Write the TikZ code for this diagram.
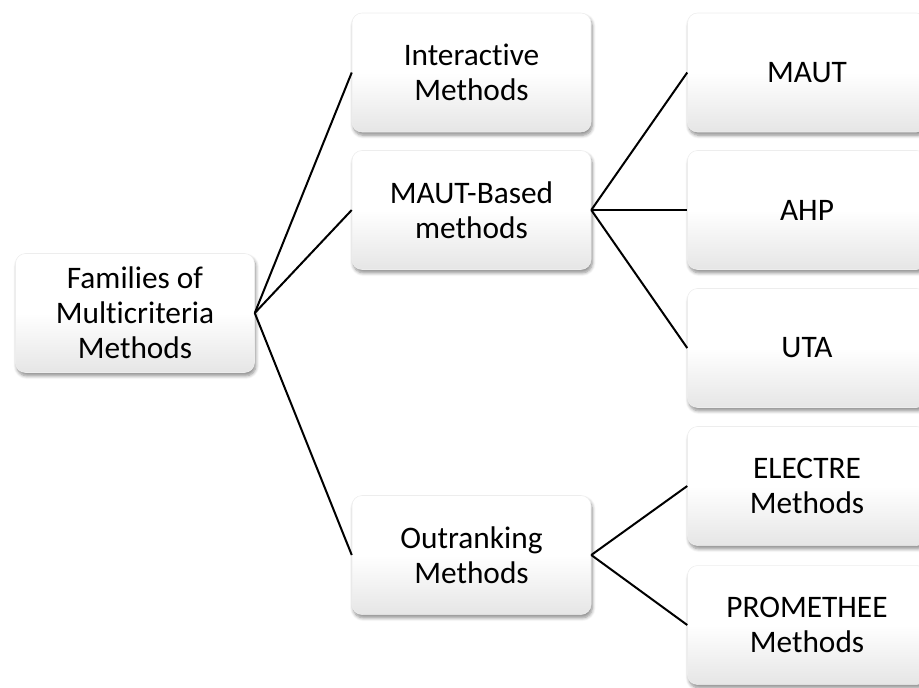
\documentclass[tikz,border=0pt]{standalone}
\usepackage{fontspec}
\setmainfont[Ligatures=NoCommon]{Carlito}
\usetikzlibrary{shadows.blur}
\begin{document}
\begin{tikzpicture}[x=0.75pt,y=-0.75pt,
  box/.style={rectangle, rounded corners=7.5pt,
    minimum width=179.25pt, minimum height=89.25pt, inner sep=0pt,
    draw=black!7, top color=white, bottom color=black!10, middle color=white,
    blur shadow={shadow xshift=1pt, shadow yshift=-2.5pt,
      shadow blur steps=6, shadow blur radius=2.5pt, shadow opacity=45},
    align=center, font=\fontsize{23.5}{26.25}\selectfont},
  link/.style={line width=1.5pt, draw=black}]
\useasboundingbox (0,0) rectangle (919,687);

% root
\node[box] (root) at (135,313) {Families of\\Multicriteria\\Methods};

% families
\node[box] (inter) at (471.5,72.5) {Interactive\\Methods};
\node[box] (maut)  at (471.5,210) {MAUT-Based\\methods};
\node[box] (outr)  at (471.5,555) {Outranking\\Methods};

% individual methods
\node[box] (m1) at (807,72.5) {MAUT};
\node[box] (m2) at (807,210)  {AHP};
\node[box] (m3) at (807,348)  {UTA};
\node[box] (o1) at (807,486)  {ELECTRE\\Methods};
\node[box] (o2) at (807,625)  {PROMETHEE\\Methods};

% connectors
\draw[link] (root.east) -- (inter.west);
\draw[link] (root.east) -- (maut.west);
\draw[link] (root.east) -- (outr.west);
\draw[link] (maut.east) -- (m1.west);
\draw[link] (maut.east) -- (m2.west);
\draw[link] (maut.east) -- (m3.west);
\draw[link] (outr.east) -- (o1.west);
\draw[link] (outr.east) -- (o2.west);
\end{tikzpicture}
\end{document}
